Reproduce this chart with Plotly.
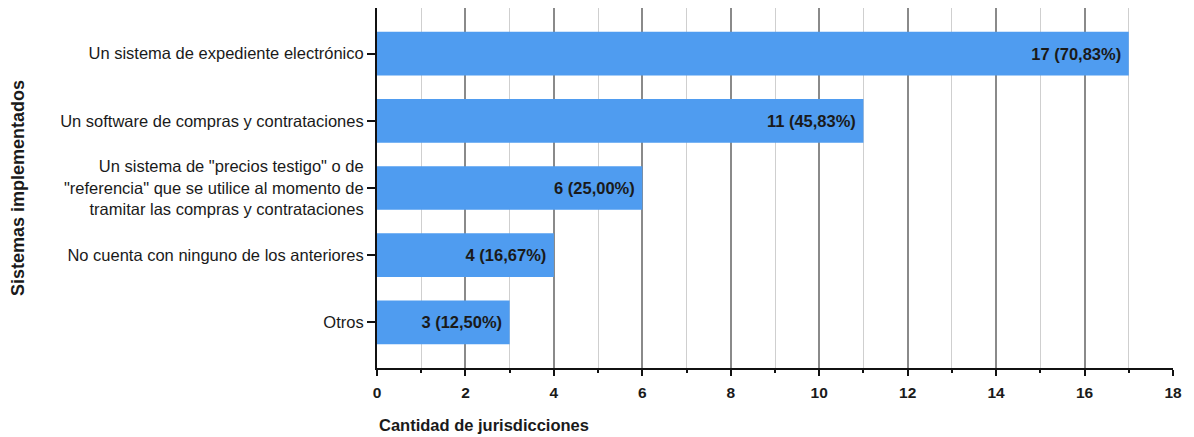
import plotly.graph_objects as go

categories = [
    "Un sistema de expediente electrónico",
    "Un software de compras y contrataciones",
    "Un sistema de \"precios testigo\" o de<br>\"referencia\" que se utilice al momento de<br>tramitar las compras y contrataciones",
    "No cuenta con ninguno de los anteriores",
    "Otros",
]
counts = [17, 11, 6, 4, 3]
percents = ["70,83%", "45,83%", "25,00%", "16,67%", "12,50%"]
x_ticks = [0, 2, 4, 6, 8, 10, 12, 14, 16, 18]

FONT = "Liberation Sans, Arial, sans-serif"
BAR = "#4f9cf0"

labels = [f"{c} ({p}) " for c, p in zip(counts, percents)]

fig = go.Figure(go.Bar(
    y=categories,
    x=counts,
    orientation="h",
    marker=dict(color=BAR, line=dict(width=0)),
    width=0.65,
    text=labels,
    textposition="inside",
    insidetextanchor="end",
    textangle=0,
    textfont=dict(family=FONT, size=16.5, color="#1a1a1a", weight="bold"),
    cliponaxis=False,
))

fig.update_layout(
    width=1194, height=437,
    margin=dict(l=377, r=21, t=8, b=69),
    paper_bgcolor="white", plot_bgcolor="white",
    showlegend=False,
    font=dict(family=FONT, size=16.5, color="#1a1a1a"),
    uniformtext=dict(minsize=8, mode="show"),
)

fig.update_xaxes(
    range=[0, 18],
    tickvals=x_ticks,
    ticktext=[str(v) for v in x_ticks],
    tickfont=dict(family=FONT, size=15.5, color="#1a1a1a", weight="bold"),
    ticklabelstandoff=3,
    showgrid=True, gridcolor="#8a8a8a", gridwidth=1.5,
    showline=True, linecolor="#111111", linewidth=2,
    ticks="outside", ticklen=6, tickwidth=2, tickcolor="#111111",
    minor=dict(dtick=1, tick0=0, showgrid=True, gridcolor="#cfcfcf", gridwidth=1,
               ticks="outside", ticklen=3, tickwidth=1.5, tickcolor="#111111"),
    zeroline=False,
    fixedrange=True,
)

fig.update_yaxes(
    autorange=False,
    range=[len(categories) - 1 + 0.68, -0.68],
    showline=True, linecolor="#111111", linewidth=2,
    ticks="outside", ticklen=8, tickwidth=1.5, tickcolor="#111111",
    tickfont=dict(family=FONT, size=16.5, color="#1a1a1a"),
    showgrid=False, zeroline=False,
    fixedrange=True,
)

fig.add_annotation(
    text="<b>Cantidad de jurisdicciones</b>",
    xref="paper", yref="paper", x=0, y=-(425 - 368) / 360,
    xanchor="left", yanchor="middle", showarrow=False,
    font=dict(family=FONT, size=16.5, color="#1a1a1a"),
)
fig.add_annotation(
    text="<b>Sistemas implementados</b>",
    xref="paper", yref="paper", x=-(377 - 18) / 796, y=0.5,
    xanchor="center", yanchor="middle", showarrow=False, textangle=-90,
    font=dict(family=FONT, size=18, color="#1a1a1a"),
)

fig.write_html("out.html", config={"displayModeBar": False},
               post_script="document.body.style.margin='0';")
